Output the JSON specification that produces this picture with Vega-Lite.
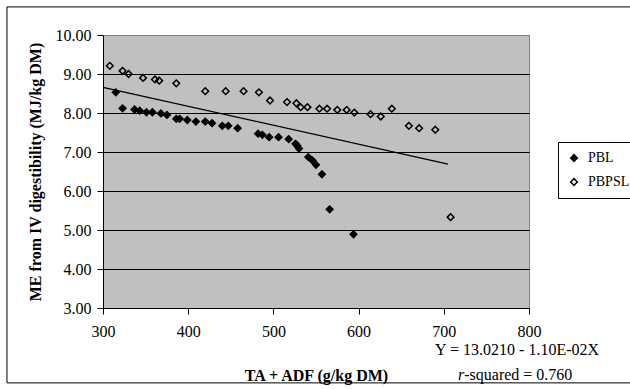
{
  "$schema": "https://vega.github.io/schema/vega-lite/v6.json",
  "autosize": {"type": "none"},
  "width": 426,
  "height": 273,
  "padding": {"left": 103, "top": 35, "right": 101, "bottom": 81},
  "background": "white",
  "config": {
    "view": {"fill": "#C0C0C0", "stroke": "#808080", "strokeWidth": 1},
    "font": "Liberation Serif",
    "legend": {"labelFont": "Liberation Serif", "labelFontSize": 14, "labelColor": "black"},
    "axisX": {
      "grid": false,
      "domainColor": "black",
      "domainWidth": 1,
      "tickColor": "black",
      "tickSize": 6,
      "labelFont": "Liberation Serif",
      "labelFontSize": 16,
      "labelColor": "black",
      "labelPadding": 9,
      "labelFlush": false,
      "labelOverlap": false,
      "titleFont": "Liberation Serif",
      "titleFontSize": 16,
      "titleFontWeight": "bold",
      "titleColor": "black",
      "titlePadding": 28
    },
    "axisY": {
      "grid": true,
      "gridWidth": 1,
      "gridOpacity": 1,
      "domainColor": "black",
      "domainWidth": 1,
      "tickColor": "black",
      "tickSize": 6,
      "labelFont": "Liberation Serif",
      "labelFontSize": 16,
      "labelColor": "black",
      "labelPadding": 6,
      "labelFlush": false,
      "labelOverlap": false,
      "titleFont": "Liberation Serif",
      "titleFontSize": 16,
      "titleFontWeight": "bold",
      "titleColor": "black",
      "titlePadding": 12
    }
  },
  "datasets": {
    "points": [
      {"series": "PBL", "x": 315, "y": 8.53},
      {"series": "PBL", "x": 323, "y": 8.12},
      {"series": "PBL", "x": 337, "y": 8.09},
      {"series": "PBL", "x": 343, "y": 8.06},
      {"series": "PBL", "x": 351, "y": 8.02},
      {"series": "PBL", "x": 358, "y": 8.02},
      {"series": "PBL", "x": 368, "y": 7.99},
      {"series": "PBL", "x": 375, "y": 7.95},
      {"series": "PBL", "x": 386, "y": 7.85},
      {"series": "PBL", "x": 390, "y": 7.85},
      {"series": "PBL", "x": 399, "y": 7.82},
      {"series": "PBL", "x": 409, "y": 7.78},
      {"series": "PBL", "x": 420, "y": 7.78},
      {"series": "PBL", "x": 428, "y": 7.74},
      {"series": "PBL", "x": 440, "y": 7.67},
      {"series": "PBL", "x": 447, "y": 7.67},
      {"series": "PBL", "x": 458, "y": 7.61},
      {"series": "PBL", "x": 482, "y": 7.47},
      {"series": "PBL", "x": 487, "y": 7.44},
      {"series": "PBL", "x": 495, "y": 7.38},
      {"series": "PBL", "x": 506, "y": 7.38},
      {"series": "PBL", "x": 518, "y": 7.33},
      {"series": "PBL", "x": 526, "y": 7.21},
      {"series": "PBL", "x": 528, "y": 7.16},
      {"series": "PBL", "x": 530, "y": 7.09},
      {"series": "PBL", "x": 541, "y": 6.87},
      {"series": "PBL", "x": 546, "y": 6.78},
      {"series": "PBL", "x": 550, "y": 6.67},
      {"series": "PBL", "x": 557, "y": 6.43},
      {"series": "PBL", "x": 566, "y": 5.53},
      {"series": "PBL", "x": 594, "y": 4.89},
      {"series": "PBPSL", "x": 308, "y": 9.21},
      {"series": "PBPSL", "x": 323, "y": 9.08},
      {"series": "PBPSL", "x": 330, "y": 9.0},
      {"series": "PBPSL", "x": 347, "y": 8.9},
      {"series": "PBPSL", "x": 361, "y": 8.86},
      {"series": "PBPSL", "x": 366, "y": 8.83},
      {"series": "PBPSL", "x": 386, "y": 8.76},
      {"series": "PBPSL", "x": 420, "y": 8.56},
      {"series": "PBPSL", "x": 444, "y": 8.56},
      {"series": "PBPSL", "x": 465, "y": 8.56},
      {"series": "PBPSL", "x": 483, "y": 8.53},
      {"series": "PBPSL", "x": 496, "y": 8.32},
      {"series": "PBPSL", "x": 516, "y": 8.28},
      {"series": "PBPSL", "x": 527, "y": 8.25},
      {"series": "PBPSL", "x": 532, "y": 8.15},
      {"series": "PBPSL", "x": 540, "y": 8.15},
      {"series": "PBPSL", "x": 554, "y": 8.11},
      {"series": "PBPSL", "x": 563, "y": 8.11},
      {"series": "PBPSL", "x": 575, "y": 8.08},
      {"series": "PBPSL", "x": 586, "y": 8.08},
      {"series": "PBPSL", "x": 595, "y": 8.01},
      {"series": "PBPSL", "x": 614, "y": 7.97},
      {"series": "PBPSL", "x": 626, "y": 7.91},
      {"series": "PBPSL", "x": 639, "y": 8.11},
      {"series": "PBPSL", "x": 659, "y": 7.67},
      {"series": "PBPSL", "x": 671, "y": 7.61},
      {"series": "PBPSL", "x": 690, "y": 7.57},
      {"series": "PBPSL", "x": 708, "y": 5.33}
    ],
    "trend": [
      {"x": 300, "y": 8.66},
      {"x": 705, "y": 6.69}
    ],
    "notes": [
      {"part": "eq", "label": "Y = 13.0210 - 1.10E-02X"},
      {"part": "r", "label": "r"},
      {"part": "rest", "label": "-squared = 0.760"}
    ],
    "frame": [
      {"part": "frame"}
    ]
  },
  "layer": [
    {
      "data": {"name": "frame"},
      "mark": {"type": "rect", "fill": null, "fillOpacity": 0, "stroke": "black", "strokeWidth": 1, "clip": false},
      "encoding": {
        "x": {"datum": 187.3, "type": "quantitative", "scale": {"domain": [300, 800], "nice": false, "zero": false},
              "axis": {"title": "TA + ADF (g/kg DM)", "values": [300, 400, 500, 600, 700, 800], "format": "d", "labelOverlap": false}},
        "x2": {"datum": 950},
        "y": {"datum": 10.72, "type": "quantitative", "scale": {"domain": [3, 10], "nice": false, "zero": false},
              "axis": {"title": "ME from IV digestibility (MJ/kg DM)", "values": [3, 4, 5, 6, 7, 8, 9, 10], "format": ".2f", "labelOverlap": false,
                       "gridColor": {"condition": {"test": "datum.value == 10", "value": "#808080"}, "value": "black"}}},
        "y2": {"datum": 1.08}
      }
    },
    {
      "data": {"name": "trend"},
      "mark": {"type": "line", "color": "black", "strokeWidth": 1.3},
      "encoding": {
        "x": {"field": "x", "type": "quantitative", "scale": {"domain": [300, 800], "nice": false, "zero": false},
              "axis": {"title": "TA + ADF (g/kg DM)", "values": [300, 400, 500, 600, 700, 800], "format": "d", "labelOverlap": false}},
        "y": {"field": "y", "type": "quantitative", "scale": {"domain": [3, 10], "nice": false, "zero": false},
              "axis": {"title": "ME from IV digestibility (MJ/kg DM)", "values": [3, 4, 5, 6, 7, 8, 9, 10], "format": ".2f", "labelOverlap": false,
                       "gridColor": {"condition": {"test": "datum.value == 10", "value": "#808080"}, "value": "black"}}}
      }
    },
    {
      "data": {"name": "points"},
      "mark": {"type": "point", "shape": "diamond", "filled": true, "size": 45, "stroke": "black", "strokeWidth": 1.5, "opacity": 1},
      "encoding": {
        "x": {"field": "x", "type": "quantitative", "scale": {"domain": [300, 800], "nice": false, "zero": false},
              "axis": {"title": "TA + ADF (g/kg DM)", "values": [300, 400, 500, 600, 700, 800], "format": "d", "labelOverlap": false}},
        "y": {"field": "y", "type": "quantitative", "scale": {"domain": [3, 10], "nice": false, "zero": false},
              "axis": {"title": "ME from IV digestibility (MJ/kg DM)", "values": [3, 4, 5, 6, 7, 8, 9, 10], "format": ".2f", "labelOverlap": false,
                       "gridColor": {"condition": {"test": "datum.value == 10", "value": "#808080"}, "value": "black"}}},
        "fill": {
          "field": "series",
          "type": "nominal",
          "scale": {"domain": ["PBL", "PBPSL"], "range": ["black", "transparent"]},
          "legend": {
            "title": null,
            "orient": "none",
            "legendX": 455,
            "legendY": 107,
            "strokeColor": "black",
            "fillColor": "white",
            "padding": 9,
            "labelFont": "Liberation Serif",
            "labelFontSize": 14,
            "labelColor": "black",
            "labelExpr": "datum.label + '\u00a0\u00a0\u00a0\u00a0'",
            "symbolType": "diamond",
            "symbolSize": 45,
            "symbolStrokeColor": "black",
            "symbolStrokeWidth": 1.5,
            "rowPadding": 10,
            "labelOffset": 7,
            "cornerRadius": 0
          }
        }
      }
    },
    {
      "data": {"name": "notes"},
      "transform": [{"filter": "datum.part == 'eq'"}],
      "mark": {"type": "text", "font": "Liberation Serif", "fontSize": 16, "color": "black", "align": "center", "baseline": "middle", "clip": false},
      "encoding": {
        "x": {"datum": 786, "type": "quantitative", "scale": {"domain": [300, 800], "nice": false, "zero": false},
              "axis": {"title": "TA + ADF (g/kg DM)", "values": [300, 400, 500, 600, 700, 800], "format": "d", "labelOverlap": false}},
        "y": {"datum": 1.92, "type": "quantitative", "scale": {"domain": [3, 10], "nice": false, "zero": false},
              "axis": {"title": "ME from IV digestibility (MJ/kg DM)", "values": [3, 4, 5, 6, 7, 8, 9, 10], "format": ".2f", "labelOverlap": false,
                       "gridColor": {"condition": {"test": "datum.value == 10", "value": "#808080"}, "value": "black"}}},
        "text": {"field": "label", "type": "nominal"}
      }
    },
    {
      "data": {"name": "notes"},
      "transform": [{"filter": "datum.part == 'r'"}],
      "mark": {"type": "text", "font": "Liberation Serif", "fontSize": 16, "fontStyle": "italic", "color": "black", "align": "right", "baseline": "middle", "clip": false},
      "encoding": {
        "x": {"datum": 724, "type": "quantitative", "scale": {"domain": [300, 800], "nice": false, "zero": false},
              "axis": {"title": "TA + ADF (g/kg DM)", "values": [300, 400, 500, 600, 700, 800], "format": "d", "labelOverlap": false}},
        "y": {"datum": 1.28, "type": "quantitative", "scale": {"domain": [3, 10], "nice": false, "zero": false},
              "axis": {"title": "ME from IV digestibility (MJ/kg DM)", "values": [3, 4, 5, 6, 7, 8, 9, 10], "format": ".2f", "labelOverlap": false,
                       "gridColor": {"condition": {"test": "datum.value == 10", "value": "#808080"}, "value": "black"}}},
        "text": {"field": "label", "type": "nominal"}
      }
    },
    {
      "data": {"name": "notes"},
      "transform": [{"filter": "datum.part == 'rest'"}],
      "mark": {"type": "text", "font": "Liberation Serif", "fontSize": 16, "color": "black", "align": "left", "baseline": "middle", "clip": false},
      "encoding": {
        "x": {"datum": 724, "type": "quantitative", "scale": {"domain": [300, 800], "nice": false, "zero": false},
              "axis": {"title": "TA + ADF (g/kg DM)", "values": [300, 400, 500, 600, 700, 800], "format": "d", "labelOverlap": false}},
        "y": {"datum": 1.28, "type": "quantitative", "scale": {"domain": [3, 10], "nice": false, "zero": false},
              "axis": {"title": "ME from IV digestibility (MJ/kg DM)", "values": [3, 4, 5, 6, 7, 8, 9, 10], "format": ".2f", "labelOverlap": false,
                       "gridColor": {"condition": {"test": "datum.value == 10", "value": "#808080"}, "value": "black"}}},
        "text": {"field": "label", "type": "nominal"}
      }
    }
  ]
}
